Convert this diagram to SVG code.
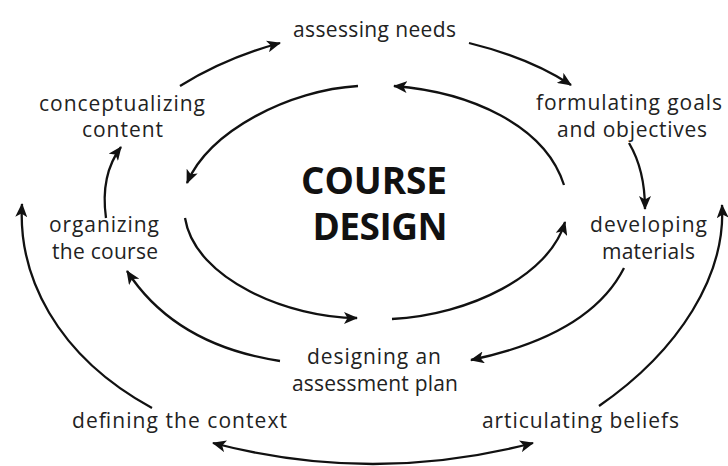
<svg xmlns="http://www.w3.org/2000/svg" width="728" height="466" viewBox="0 0 728 466">
<defs>
<style>
.lbl{font-family:"Open Sans","Noto Sans",sans-serif;font-size:21px;fill:#222;text-anchor:middle}
.title{font-family:"Open Sans","Noto Sans",sans-serif;font-size:37px;font-weight:bold;fill:#111;text-anchor:middle}
.arr{fill:none;stroke:#111;stroke-width:2.3;marker-end:url(#ah)}
</style>
<marker id="ah" markerUnits="userSpaceOnUse" markerWidth="14" markerHeight="12" refX="13" refY="6" orient="auto-start-reverse" viewBox="0 0 14 12">
<path d="M0,0 L14,6 L0,12 L3.5,6 z" fill="#111"/>
</marker>
</defs>
<rect width="728" height="466" fill="#fff"/>
<g id="connectors">
<path class="arr" d="M180,86 Q225,58 280,43"/>
<path class="arr" d="M469,43 Q530,58 571,85"/>
<path class="arr" d="M629,143 Q645,170 645,209"/>
<path class="arr" d="M624,268 Q590,335 471,360"/>
<path class="arr" d="M280,361 Q175,345 127,271"/>
<path class="arr" d="M106,218 Q100,175 121,147"/>
<path class="arr" d="M152,408 C55,355 18,275 22,204"/>
<path class="arr" d="M599,406 C680,350 726,275 722,205"/>
<path class="arr" d="M213,443 Q373,485 533,443" style="marker-start:url(#ah)"/>
<path class="arr" d="M564,185 C545,125 470,92 394,86"/>
<path class="arr" d="M358,86 C290,90 210,130 187,183"/>
<path class="arr" d="M185,218 C195,280 290,318 357,318"/>
<path class="arr" d="M392,319 C470,315 550,275 565,222"/>
</g>
<g id="center"><text class="title" x="374" y="194" textLength="146">COURSE</text><text class="title" x="380" y="240" textLength="135">DESIGN</text></g>
<g id="assessing-needs"><text class="lbl" x="374.5" y="37" textLength="163">assessing needs</text></g>
<g id="formulating-goals"><text class="lbl" x="629" y="110" textLength="186">formulating goals</text><text class="lbl" x="632" y="137" textLength="150">and objectives</text></g>
<g id="developing-materials"><text class="lbl" x="648.5" y="232" textLength="117">developing</text><text class="lbl" x="648.5" y="259" textLength="93">materials</text></g>
<g id="designing-assessment"><text class="lbl" x="374" y="364" textLength="134">designing an</text><text class="lbl" x="375" y="391" textLength="166">assessment plan</text></g>
<g id="articulating-beliefs"><text class="lbl" x="580.5" y="428" textLength="197">articulating beliefs</text></g>
<g id="defining-context"><text class="lbl" x="179.5" y="428" textLength="215">defining the context</text></g>
<g id="organizing-course"><text class="lbl" x="104" y="232" textLength="110">organizing</text><text class="lbl" x="105" y="259" textLength="106">the course</text></g>
<g id="conceptualizing-content"><text class="lbl" x="122" y="111" textLength="166">conceptualizing</text><text class="lbl" x="122.5" y="137" textLength="81">content</text></g>
</svg>
